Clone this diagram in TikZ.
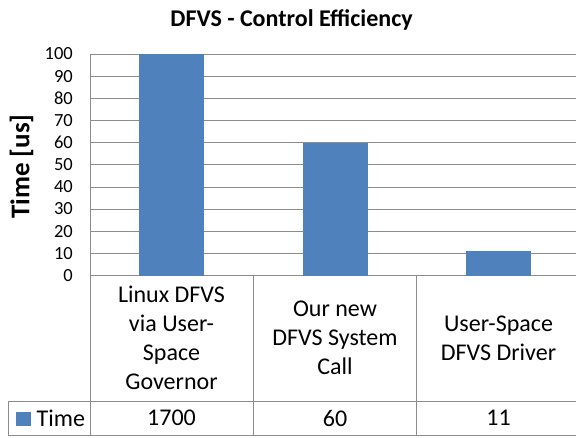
\documentclass[tikz,border=0pt]{standalone}
\usepackage{fontspec}
\setmainfont{Carlito}
\usetikzlibrary{positioning,calc}
\definecolor{barblue}{RGB}{79,129,189}
\definecolor{gridgray}{RGB}{140,140,140}
\tikzset{font=\fontsize{24}{29}\selectfont}

\begin{document}
\begin{tikzpicture}[x=1pt,y=-1pt]
	\useasboundingbox (0,0) rectangle (576,437);
	\begin{scope}
		\tikzstyle{every node}=[align=center, inner sep=0pt]
		\tikzstyle{grid}=[draw=gridgray, line width=0.8pt]
		\tikzstyle{bar}=[fill=barblue]

		% title and axis label
		\node[font=\fontsize{24}{27}\selectfont\bfseries] (title) at (291.5, 19.5) {DFVS - Control Efficiency};
		\node[font=\fontsize{27}{30}\selectfont\bfseries, rotate=90] (ylabel) at (21.5, 166.5) {Time [us]};

		% grid and ticks
		\foreach \v in {0,10,...,100}{
			\draw[grid] (90, {275.5-2.215*\v}) -- (576, {275.5-2.215*\v});
			\node[anchor=east, font=\fontsize{18.5}{20}\selectfont] (t\v) at (73, {275.5-2.215*\v}) {\v};
		}

		% bars
		\fill[bar] (139, 275.5) rectangle (204, 54);
		\fill[bar] (302.5, 275.5) rectangle (367.5, 142.6);
		\fill[bar] (466, 275.5) rectangle (531, 251.1);

		% data table
		\draw[grid] (90, 54) -- (90, 435.5);
		\draw[grid] (253, 275.5) -- (253, 435.5);
		\draw[grid] (416.5, 275.5) -- (416.5, 435.5);
		\draw[grid] (8, 401.5) -- (576, 401.5);
		\draw[grid] (8, 435.5) -- (576, 435.5);
		\draw[grid] (8, 401.5) -- (8, 435.5);

		\node (c1) at (171.5, 338) {Linux DFVS\\via User-\\Space\\Governor};
		\node (c2) at (335, 338) {Our new\\DFVS System\\Call};
		\node (c3) at (498.5, 338) {User-Space\\DFVS Driver};

		\fill[bar] (16, 411.5) rectangle (30.5, 425.5);
		\node[anchor=west] (leg) at (36.5, 418) {Time};
		\node (v1) at (171.5, 418) {1700};
		\node (v2) at (335, 418) {60};
		\node (v3) at (498.5, 418) {11};
	\end{scope}
\end{tikzpicture}
\end{document}
